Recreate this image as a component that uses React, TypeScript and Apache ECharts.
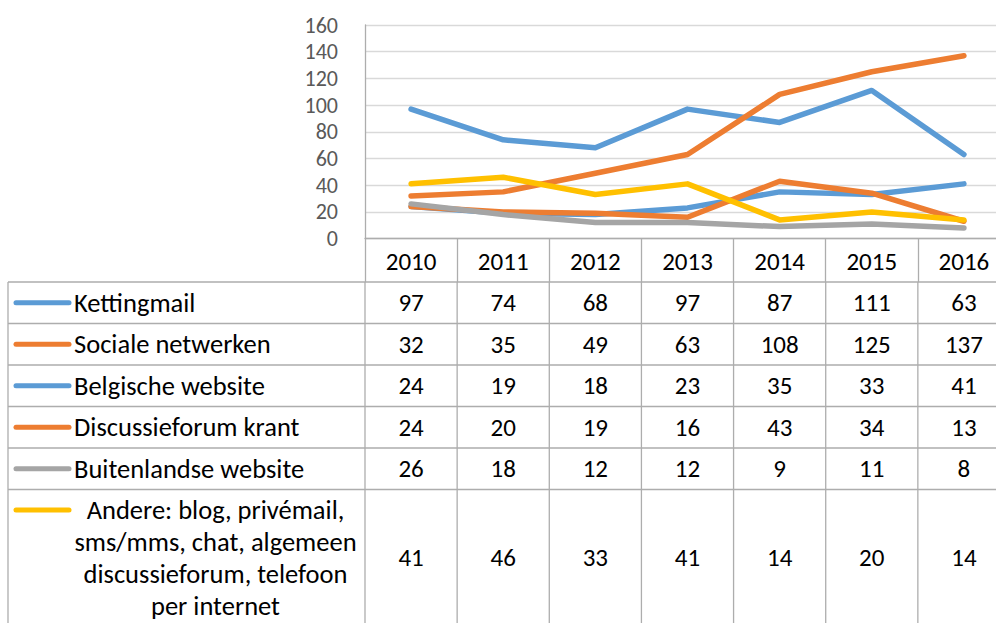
import React, { useEffect, useRef } from "react";
import * as echarts from "echarts";

const categories = ["2010", "2011", "2012", "2013", "2014", "2015", "2016"];
const kettingmail = [97, 74, 68, 97, 87, 111, 63];
const socialeNetwerken = [32, 35, 49, 63, 108, 125, 137];
const belgischeWebsite = [24, 19, 18, 23, 35, 33, 41];
const discussieforumKrant = [24, 20, 19, 16, 43, 34, 13];
const buitenlandseWebsite = [26, 18, 12, 12, 9, 11, 8];
const andere = [41, 46, 33, 41, 14, 20, 14];

const seriesNames = [
  "Kettingmail",
  "Sociale netwerken",
  "Belgische website",
  "Discussieforum krant",
  "Buitenlandse website",
  "Andere: blog, privémail, sms/mms, chat, algemeen discussieforum, telefoon per internet",
];
const andereLines = [
  "Andere: blog, privémail,",
  "sms/mms, chat, algemeen",
  "discussieforum, telefoon",
  "per internet",
];
const seriesData = [kettingmail, socialeNetwerken, belgischeWebsite, discussieforumKrant, buitenlandseWebsite, andere];
const seriesColors = ["#5B9BD5", "#ED7D31", "#5B9BD5", "#ED7D31", "#A5A5A5", "#FFC000"];

const FONT = "Calibri, Carlito, Lato, sans-serif";
const BORDER = "#ADADAD";
const NUM_SIZE = 25;
const Y_SIZE = 22;
const TXT_SIZE = 26.5;

export default function App() {
  const ref = useRef<HTMLDivElement>(null);
  useEffect(() => {
    if (!ref.current) return;
    const chart = echarts.init(ref.current, undefined, { renderer: "svg" });
    const W = 1012;
    const H = 623;
    const plotRight = 1010;
    const axisY = 238.6;
    chart.setOption({
      animation: false,
      backgroundColor: "#ffffff",
      grid: { left: 365, top: 25, right: W - plotRight, bottom: H - axisY, containLabel: false },
      xAxis: {
        type: "category",
        data: categories,
        boundaryGap: true,
        axisLine: { show: true, lineStyle: { color: BORDER, width: 1.3 } },
        axisTick: { show: true, interval: 0, length: 43.5, lineStyle: { color: BORDER, width: 1.3 } },
        axisLabel: {
          interval: 0,
          margin: 23,
          verticalAlign: "middle",
          fontSize: NUM_SIZE,
          fontFamily: FONT,
          color: "#000000",
        },
        splitLine: { show: false },
      },
      yAxis: {
        type: "value",
        min: 0,
        max: 160,
        interval: 20,
        axisLine: { show: true, lineStyle: { color: BORDER, width: 1.3 } },
        axisTick: { show: false },
        axisLabel: { margin: 27, fontSize: Y_SIZE, lineHeight: 22, fontFamily: FONT, color: "#595959" },
        splitLine: { show: true, lineStyle: { color: "#D9D9D9", width: 1.3 } },
      },
      series: seriesData.map((d, i) => ({
        name: seriesNames[i],
        type: "line",
        data: d,
        symbol: "none",
        smooth: false,
        lineStyle: { color: seriesColors[i], width: 5.5, cap: "round", join: "round" },
        itemStyle: { color: seriesColors[i] },
        z: 2 + i,
      })),
    });

    const xs = categories.map((_, i) => chart.convertToPixel({ xAxisIndex: 0 }, i) as number);
    const colW = xs[1] - xs[0];
    const tableTop = 282;
    const rowH = 41.5;
    const tableLeft = 8;
    const tableBottom = H + 5;
    const lastRowTop = tableTop + 5 * rowH;
    const lastRowCenter = (lastRowTop + 626) / 2;
    const graphics: any[] = [];
    for (let r = 0; r <= 5; r++) {
      const y = tableTop + r * rowH;
      graphics.push({
        type: "line",
        shape: { x1: tableLeft, y1: y, x2: plotRight, y2: y },
        style: { stroke: BORDER, lineWidth: 1.3 },
        silent: true,
      });
    }
    const vxs = [tableLeft, ...xs.map((x) => x - colW / 2), xs[xs.length - 1] + colW / 2];
    vxs.forEach((x) => {
      graphics.push({
        type: "line",
        shape: { x1: x, y1: tableTop, x2: x, y2: tableBottom },
        style: { stroke: BORDER, lineWidth: 1.3 },
        silent: true,
      });
    });
    seriesData.forEach((d, r) => {
      const isLast = r === 5;
      const cy = isLast ? lastRowCenter : tableTop + (r + 0.5) * rowH;
      const markerY = isLast ? lastRowTop + 20.5 : cy;
      graphics.push({
        type: "line",
        shape: { x1: 16, y1: markerY, x2: 69, y2: markerY },
        style: { stroke: seriesColors[r], lineWidth: 5, lineCap: "round" },
        silent: true,
      });
      if (isLast) {
        andereLines.forEach((t, k) => {
          graphics.push({
            type: "text",
            style: {
              text: t,
              x: 215.5,
              y: lastRowTop + 20.5 + k * 32,
              align: "center",
              verticalAlign: "middle",
              fontSize: TXT_SIZE,
              fontFamily: FONT,
              fill: "#000000",
            },
            silent: true,
          });
        });
      } else {
        graphics.push({
          type: "text",
          style: {
            text: seriesNames[r],
            x: 74,
            y: cy,
            align: "left",
            verticalAlign: "middle",
            fontSize: TXT_SIZE,
            fontFamily: FONT,
            fill: "#000000",
          },
          silent: true,
        });
      }
      d.forEach((v, c) => {
        graphics.push({
          type: "text",
          style: {
            text: String(v),
            x: xs[c],
            y: cy,
            align: "center",
            verticalAlign: "middle",
            fontSize: NUM_SIZE,
            fontFamily: FONT,
            fill: "#000000",
          },
          silent: true,
        });
      });
    });
    chart.setOption({ graphic: graphics });
    return () => chart.dispose();
  }, []);
  return (
    <div style={{ position: "fixed", left: 0, top: 0, width: 996, height: 623, overflow: "hidden", background: "#fff" }}>
      <div ref={ref} style={{ width: 1012, height: 623 }} />
    </div>
  );
}
